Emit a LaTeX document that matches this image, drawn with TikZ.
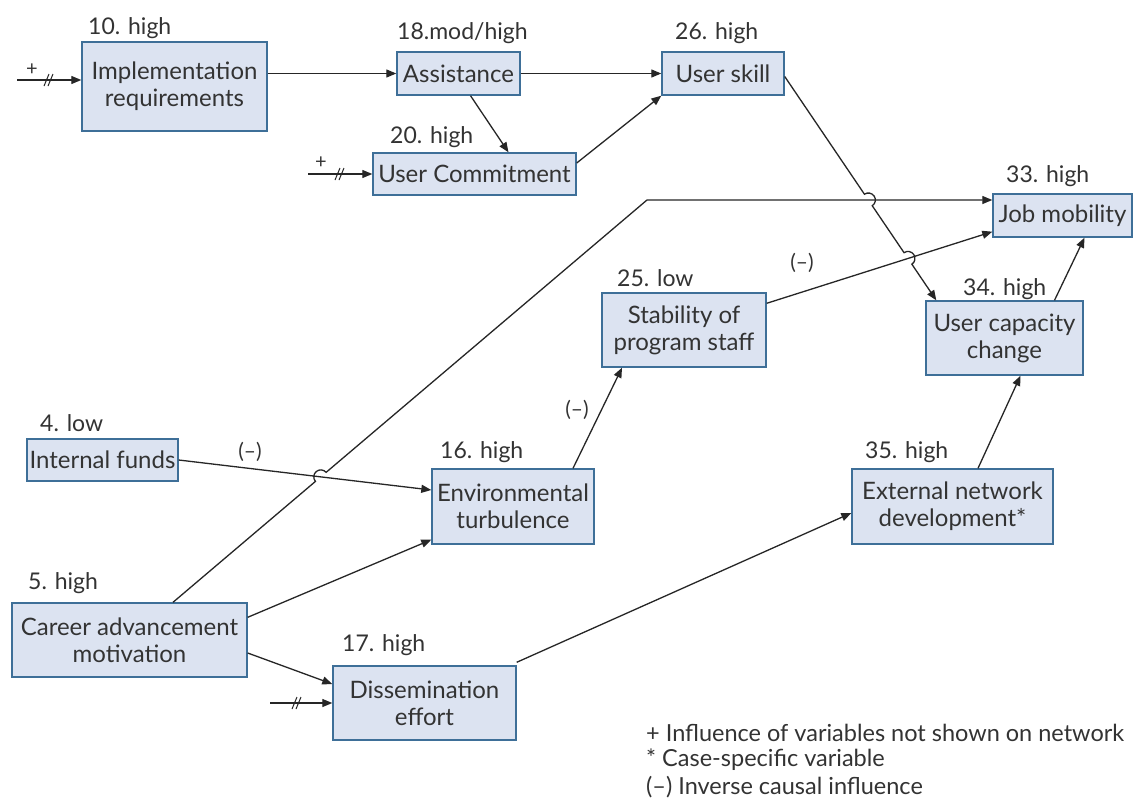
\documentclass[tikz,border=0pt]{standalone}
\usepackage{fontspec}
\setmainfont{Lato}
\usetikzlibrary{arrows.meta,calc,intersections}
\definecolor{boxfill}{HTML}{DCE3F1}
\definecolor{boxline}{HTML}{3E6F98}
\definecolor{ink}{HTML}{333333}
\definecolor{wire}{HTML}{262626}
\newcommand\hopr{7pt}
\begin{document}
\begin{tikzpicture}[x=1pt,y=-1pt,
  var/.style={draw=boxline, line width=1.4pt, fill=boxfill, text=ink,
    font=\fontsize{24}{27}\selectfont, align=center, inner sep=0pt},
  lvl/.style={text=ink, font=\fontsize{23}{26}\selectfont, anchor=west, inner sep=0pt},
  conn/.style={draw=wire, line width=1.3pt, -{Triangle[length=10pt,width=8pt]}},
  feed/.style={draw=wire, line width=1.3pt, -{Triangle[length=10pt,width=8pt]}},
  brk/.style={draw=wire, line width=1pt},
  plus/.style={text=ink, font=\fontsize{20}{22}\selectfont, inner sep=0pt},
  neg/.style={text=ink, font=\fontsize{21}{24}\selectfont, inner sep=0pt},
  note/.style={text=ink, font=\fontsize{23.5}{27}\selectfont, anchor=west, inner sep=0pt}]
\fill[white] (0,0) rectangle (1135,803);
\useasboundingbox (0,0) rectangle (1135,803);

% variables
\node[var, minimum width=185pt, minimum height=89pt] (impl)   at (174.5,86.5) {Implementation\\requirements};
\node[var, minimum width=123pt, minimum height=43pt] (assist) at (458.5,73.5) {Assistance};
\node[var, minimum width=203pt, minimum height=42pt] (ucom)   at (474.5,174)  {User Commitment};
\node[var, minimum width=122pt, minimum height=43pt] (uskill) at (723,73.5)   {User skill};
\node[var, minimum width=139pt, minimum height=43pt] (jobmob) at (1062.5,215.5) {Job mobility};
\node[var, minimum width=157pt, minimum height=74pt] (ucc)    at (1004.5,338) {User capacity\\change};
\node[var, minimum width=164pt, minimum height=74pt] (stab)   at (684,330)    {Stability of\\program staff};
\node[var, minimum width=162pt, minimum height=75pt] (env)    at (513,506.5)  {Environmental\\turbulence};
\node[var, minimum width=151pt, minimum height=42pt] (funds)  at (102.5,460)  {Internal funds};
\node[var, minimum width=235pt, minimum height=74pt] (career) at (129.5,640)  {Career advancement\\motivation};
\node[var, minimum width=183pt, minimum height=74pt] (dissem) at (424.5,703)  {Dissemination\\effort};
\node[var, minimum width=201pt, minimum height=75pt] (extnet) at (952.5,506.5) {External network\\development*};

% ratings
\node[lvl] (l10) at (88,28)   {10. high};
\node[lvl] (l18) at (397,33)  {18.mod/high};
\node[lvl] (l20) at (390,137) {20. high};
\node[lvl] (l26) at (675,33)  {26. high};
\node[lvl] (l33) at (1006,176) {33. high};
\node[lvl] (l34) at (963,289) {34. high};
\node[lvl] (l25) at (617,278) {25. low};
\node[lvl] (l4)  at (40,423)  {4. low};
\node[lvl] (l16) at (440,452) {16. high};
\node[lvl] (l5)  at (28,583)  {5. high};
\node[lvl] (l17) at (342,645) {17. high};
\node[lvl] (l35) at (865,452) {35. high};

% anchor points for the links
\coordinate (jbend) at (647,200);
\coordinate (cTop)  at ([xshift=43.5pt]career.north);
\coordinate (jIn)   at ([yshift=15.5pt]jobmob.west);
\coordinate (fOut)  at (funds.east);
\coordinate (eIn)   at ([yshift=16.5pt]env.west);
\coordinate (sOut)  at ([yshift=-11pt]stab.north east);
\coordinate (jIn2)  at ([yshift=6pt]jobmob.south west);
\coordinate (kOut)  at ([yshift=-3pt]uskill.east);
\coordinate (uIn)   at ([xshift=11pt]ucc.north west);

\path[name path=pFunds] (fOut) -- (eIn);
\path[name path=pDiag]  (cTop) -- (jbend);
\path[name path=pHoriz] (jbend) -- (jIn);
\path[name path=pStab]  (sOut) -- (jIn2);
\path[name path=pSkill] (kOut) -- (uIn);
\path[name intersections={of=pDiag and pFunds, by=hopA}];
\path[name intersections={of=pSkill and pHoriz, by=hopB}];
\path[name intersections={of=pSkill and pStab, by=hopC}];

% straight links
\draw[conn] (assist.west -| impl.east) -- (assist.west);
\draw[conn] (assist.east) -- (uskill.west);
\draw[conn] ([xshift=12pt]assist.south) -- ([xshift=34pt]ucom.north);
\draw[conn] ([yshift=11pt]ucom.east) -- (uskill.south west);
\draw[conn] (fOut) -- (eIn);
\draw[conn] ([xshift=60pt]env.north) -- ([xshift=-62pt]stab.south);
\draw[conn] (sOut) -- (jIn2);
\draw[conn] ([xshift=50pt]ucc.north) -- ([xshift=22pt]jobmob.south);
\draw[conn] ([xshift=25.5pt]extnet.north) -- ([xshift=16pt]ucc.south);
\draw[conn] ([yshift=-15pt]career.north east) -- ([yshift=5pt]env.south west);
\draw[conn] ([yshift=-13pt]career.east) -- ([yshift=19pt]dissem.west);
\draw[conn] ([yshift=3pt]dissem.north east) -- ([yshift=-6.5pt]extnet.west);

% links that hop over crossings
\draw[conn] let \p1=($(jbend)-(cTop)$), \n1={atan2(\y1,\x1)} in
  (cTop) -- ($(hopA)!\hopr!(cTop)$) arc[start angle=\n1+180, delta angle=-180, radius=\hopr]
  -- (jbend) -- (jIn);
\draw[conn] let \p1=($(uIn)-(kOut)$), \n1={atan2(\y1,\x1)} in
  (kOut) -- ($(hopB)!\hopr!(kOut)$) arc[start angle=\n1+180, delta angle=-180, radius=\hopr]
  -- ($(hopC)!\hopr!(kOut)$) arc[start angle=\n1+180, delta angle=-180, radius=\hopr]
  -- (uIn);

% inverse influence marks
\node[neg] (n1) at (250,452) {(–)};
\node[neg] (n2) at (577,410) {(–)};
\node[neg] (n3) at (802,263) {(–)};

% outside influences
\coordinate (f1) at (17,80);
\coordinate (f2) at (308,174);
\coordinate (f3) at (270,703);
\draw[feed] (f1) -- (f1 -| impl.west);
\draw[feed] (f2) -- (ucom.west);
\draw[feed] (f3) -- (dissem.west);
\node[plus] (p1) at (32,70) {+};
\node[plus] (p2) at (321,163) {+};
\coordinate (b1) at (49,80);
\coordinate (b2) at (340,174);
\coordinate (b3) at (297,703);
\foreach \b in {b1,b2,b3}{
  \draw[brk] ([xshift=-5pt,yshift=-6pt]\b) -- ++(5pt,12pt);
  \draw[brk] ([xshift=-1pt,yshift=-6pt]\b) -- ++(5pt,12pt);
}

% key
\node[note] (k1) at (646,733) {+ Influence of variables not shown on network};
\node[note] (k2) at (646,760) {* Case-specific variable};
\node[note] (k3) at (646,787) {(–) Inverse causal influence};
\end{tikzpicture}
\end{document}
